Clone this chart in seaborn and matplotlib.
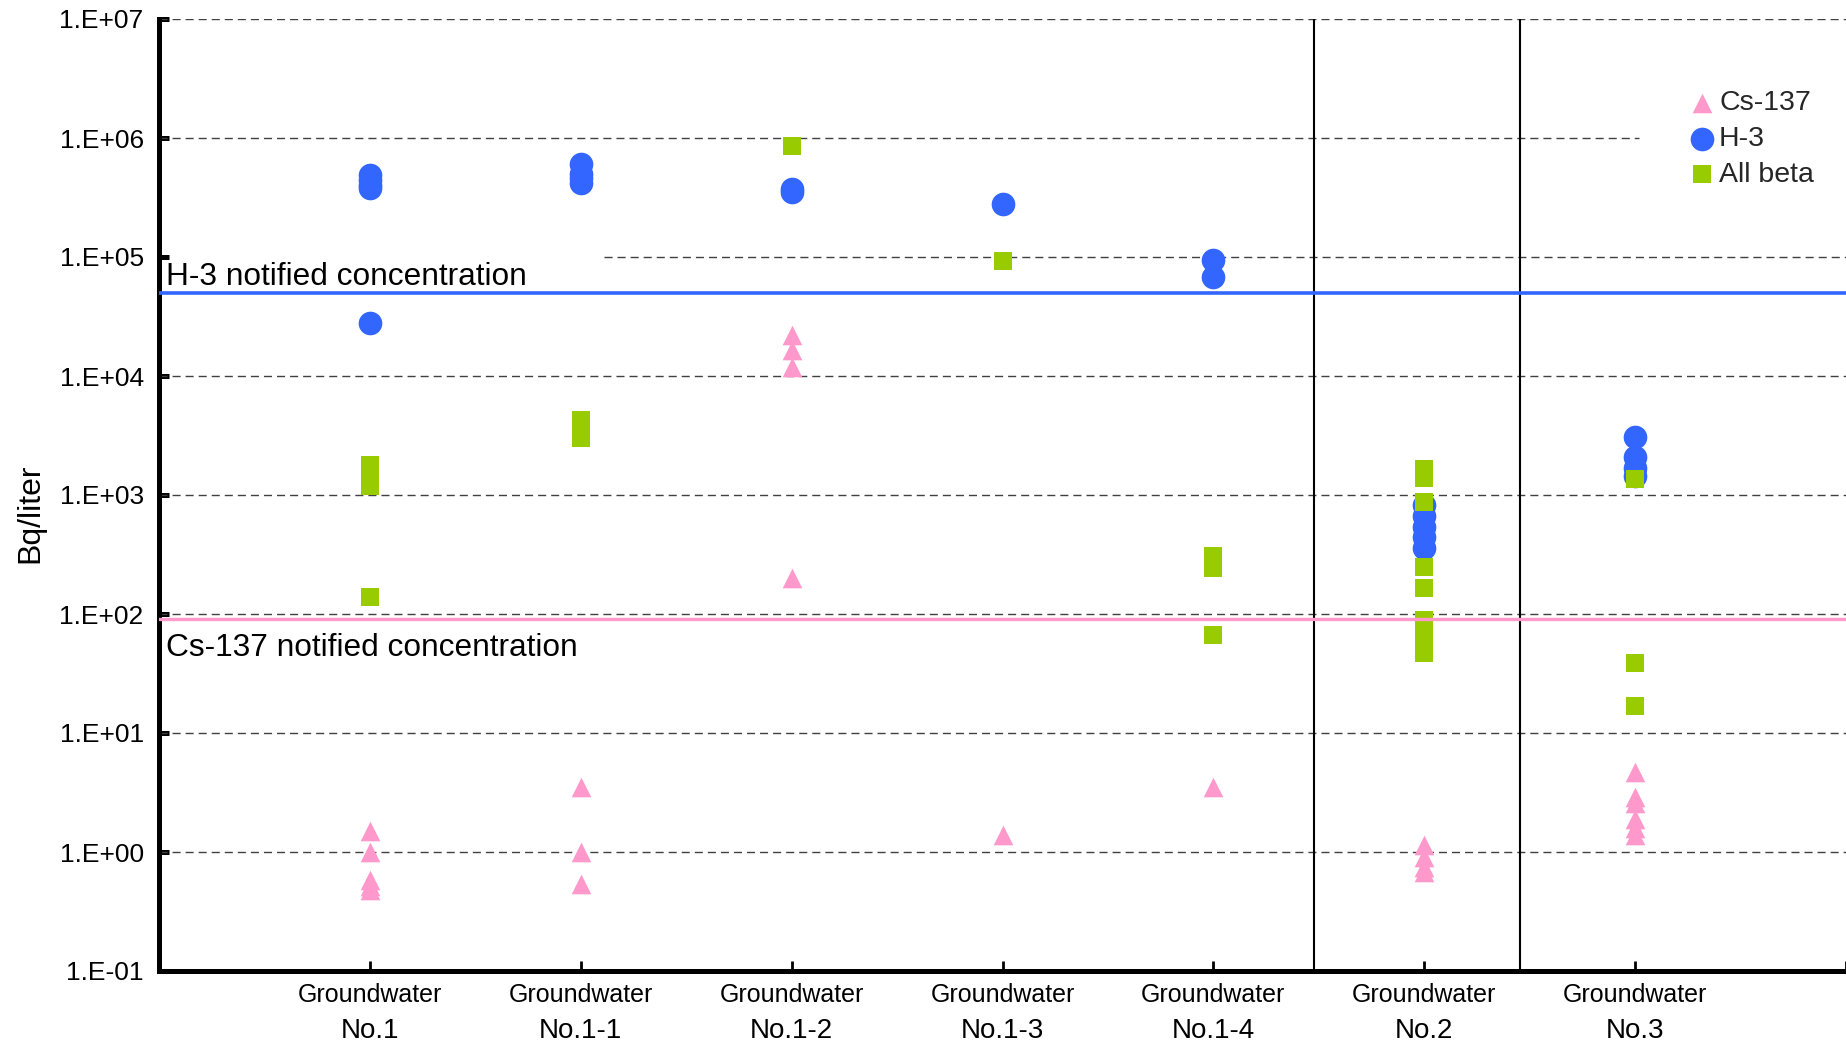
import matplotlib
matplotlib.use("Agg")
import matplotlib.pyplot as plt
import numpy as np
import pandas as pd
import seaborn as sns
from matplotlib.ticker import FixedLocator, FixedFormatter, NullLocator

# Sampling points (groundwater observation holes)
wells = ["No.1", "No.1-1", "No.1-2", "No.1-3", "No.1-4", "No.2", "No.3"]
well_prefix = "Groundwater"

# Measured concentrations, Bq/liter
cs137 = {
    "No.1": [1.5, 1.0, 0.58, 0.52, 0.48],
    "No.1-1": [3.5, 1.0, 0.54],
    "No.1-2": [2.2e4, 1.65e4, 1.2e4, 200],
    "No.1-3": [1.4],
    "No.1-4": [3.5],
    "No.2": [1.15, 0.9, 0.75, 0.68],
    "No.3": [4.7, 2.9, 2.6, 1.9, 1.6, 1.4],
}
h3 = {
    "No.1": [4.9e5, 4.4e5, 4.0e5, 3.8e5, 2.8e4],
    "No.1-1": [6.0e5, 5.0e5, 4.6e5, 4.2e5],
    "No.1-2": [3.7e5, 3.5e5],
    "No.1-3": [2.8e5],
    "No.1-4": [9.5e4, 6.8e4],
    "No.2": [820, 670, 540, 440, 360],
    "No.3": [3.1e3, 2.1e3, 1.7e3, 1.45e3],
}
all_beta = {
    "No.1": [1.8e3, 1.5e3, 1.3e3, 1.2e3, 140],
    "No.1-1": [4.3e3, 3.6e3, 3.0e3],
    "No.1-2": [8.6e5],
    "No.1-3": [9.3e4],
    "No.1-4": [310, 245, 66],
    "No.2": [1.65e3, 1.4e3, 880, 248, 165, 89, 73, 52, 47],
    "No.3": [1.36e3, 39, 17],
}

# Notified concentration limits
h3_limit = 5.0e4
cs137_limit = 90.0

y_tick_values = [1e-1, 1e0, 1e1, 1e2, 1e3, 1e4, 1e5, 1e6, 1e7]
y_tick_labels = ["1.E-01", "1.E+00", "1.E+01", "1.E+02", "1.E+03",
                 "1.E+04", "1.E+05", "1.E+06", "1.E+07"]

series_names = ["Cs-137", "H-3", "All beta"]
series_tables = [cs137, h3, all_beta]
series_colors = ["#FF99CC", "#3366FF", "#99CC00"]
series_markers = ["^", "o", "s"]
series_sizes = [200, 290, 150]

rows = []
for name, table in zip(series_names, series_tables):
    for i, well in enumerate(wells):
        for v in table[well]:
            rows.append({"pos": i + 1, "well": well, "nuclide": name, "value": v})
df = pd.DataFrame(rows)

sns.set_theme(style="white")
plt.rcParams["font.family"] = ["Liberation Sans", "DejaVu Sans"]

W, H = 1846, 1043
fig = plt.figure(figsize=(W / 100, H / 100), dpi=100)
ax = fig.add_axes([159 / W, 1 - 971 / H, 1687 / W, 952 / H])
ax.set_yscale("log")
ax.set_xlim(0, 8)
ax.set_ylim(1e-1, 1e7)

# Dashed decade gridlines (partly interrupted by labels / legend)
dash = (0, (5.8, 3.6))
grid_color = "#404040"
for v in y_tick_values[1:]:
    x0, x1 = 0.0, 1.0
    if v == 1e5:
        x0 = 2.11 / 8
    if v == 1e6:
        x1 = 7.02 / 8
    ax.axhline(v, xmin=x0, xmax=x1, color=grid_color, lw=1.0,
               linestyle=dash, zorder=1)

# Separators between well groups
for xv in (5.477, 6.454):
    ax.axvline(xv, color="black", lw=1.5, zorder=2)

# Measurements
for name, color, marker, size in zip(series_names, series_colors,
                                     series_markers, series_sizes):
    sub = df[df["nuclide"] == name]
    sns.scatterplot(data=sub, x="pos", y="value", color=color, marker=marker,
                    s=size, linewidth=0, ax=ax, label=name, zorder=3)

# Limit lines
ax.axhline(h3_limit, color="#3366FF", lw=2.6, zorder=4)
ax.axhline(cs137_limit, color="#FF99CC", lw=2.4, zorder=4)

ax.annotate("H-3 notified concentration", xy=(0, h3_limit),
            xycoords=("axes fraction", "data"), xytext=(5, 5.5),
            textcoords="offset points", fontsize=22.8, ha="left",
            va="baseline", color="black")
ax.annotate("Cs-137 notified concentration", xy=(0, cs137_limit),
            xycoords=("axes fraction", "data"), xytext=(5, -26),
            textcoords="offset points", fontsize=22.8, ha="left",
            va="baseline", color="black")

# Axes styling
for side in ("top", "right"):
    ax.spines[side].set_visible(False)
for side in ("left", "bottom"):
    ax.spines[side].set_color("black")
    ax.spines[side].set_linewidth(3.6)

ax.yaxis.set_major_locator(FixedLocator(y_tick_values))
ax.yaxis.set_major_formatter(FixedFormatter(y_tick_labels))
ax.yaxis.set_minor_locator(NullLocator())
ax.tick_params(axis="y", which="major", direction="in", length=7, width=3.6,
               labelsize=19, pad=11, colors="black", left=True)

x_ticks = list(range(1, len(wells) + 2))
ax.set_xticks(x_ticks)
ax.set_xticklabels([well_prefix] * len(wells) + [""])
ax.tick_params(axis="x", which="major", direction="in", length=7, width=2,
               labelsize=18, pad=8.5, colors="black", bottom=True)
ax.xaxis.set_minor_locator(NullLocator())

for i, well in enumerate(wells):
    ax.text(i + 1, -0.0625, well, transform=ax.get_xaxis_transform(),
            ha="center", va="center", fontsize=20, color="black")

ax.set_xlabel("")
ax.set_ylabel("Bq/liter", fontsize=23, color="black")
ax.yaxis.set_label_coords(-0.0676, 0.481)

ax.legend(loc="upper left", bbox_to_anchor=(0.9079, 0.925), frameon=False,
          fontsize=20.5, handlelength=0.8, handletextpad=0.2,
          labelspacing=0.34, borderpad=0, borderaxespad=0)

fig.savefig("out.png", dpi=100, facecolor="white")
